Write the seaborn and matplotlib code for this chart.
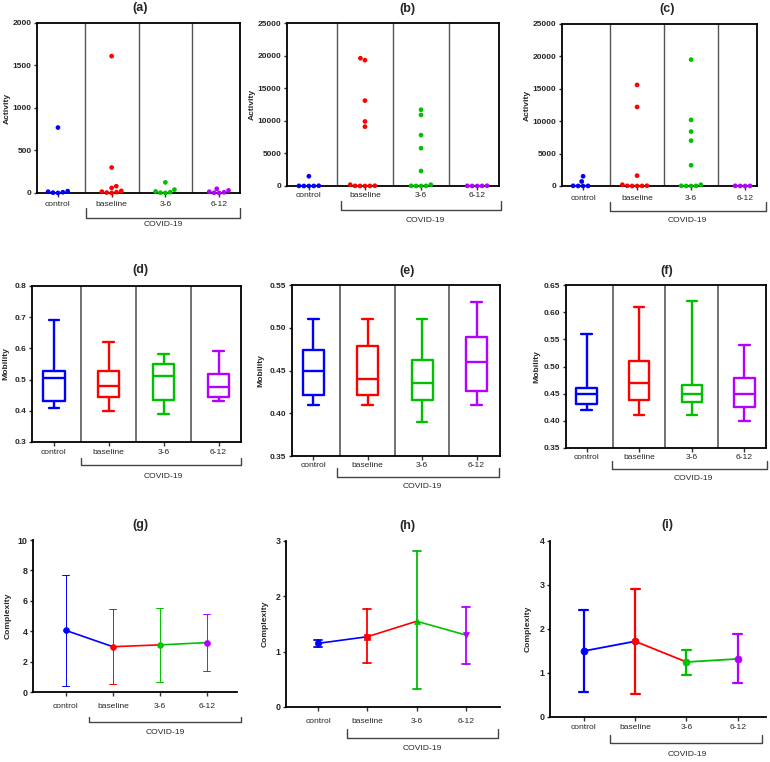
import numpy as np
import pandas as pd
import matplotlib
matplotlib.use("Agg")
import matplotlib.pyplot as plt
import seaborn as sns

# ---------------- data ----------------
categories = ["control", "baseline", "3-6", "6-12"]
palette = ["#0000FF", "#FF0000", "#00C000", "#B400FF"]
bracket_label = "COVID-19"

# Activity: individual values per group
act_a_control = [770, 22, 15, 9, 4, 1]
act_a_baseline = [1610, 300, 80, 60, 25, 16, 10, 5, 1]
act_a_3_6 = [125, 40, 18, 10, 4, 1]
act_a_6_12 = [50, 30, 15, 8, 3, 1]

act_b_control = [1500, 40, 20, 10, 2, 0]
act_b_baseline = [19600, 19300, 13100, 9900, 9100, 200, 40, 25, 12, 5, 0]
act_b_3_6 = [11700, 10900, 7800, 5800, 2300, 200, 30, 15, 5, 0]
act_b_6_12 = [40, 25, 15, 5, 0]

act_c_control = [1500, 700, 30, 15, 5, 0]
act_c_baseline = [15600, 12200, 1600, 200, 40, 25, 12, 5, 0]
act_c_3_6 = [19500, 10200, 8400, 7000, 3200, 200, 30, 15, 5, 0]
act_c_6_12 = [30, 15, 8, 0]

# Mobility: five-number summaries [min, q1, median, q3, max]
mob_d_control = [0.41, 0.433, 0.506, 0.529, 0.691]
mob_d_baseline = [0.40, 0.443, 0.480, 0.529, 0.621]
mob_d_3_6 = [0.39, 0.436, 0.511, 0.551, 0.581]
mob_d_6_12 = [0.43, 0.445, 0.476, 0.518, 0.592]

mob_e_control = [0.41, 0.421, 0.450, 0.474, 0.51]
mob_e_baseline = [0.41, 0.421, 0.440, 0.479, 0.51]
mob_e_3_6 = [0.39, 0.416, 0.435, 0.462, 0.51]
mob_e_6_12 = [0.41, 0.426, 0.460, 0.489, 0.53]

mob_f_control = [0.42, 0.431, 0.450, 0.461, 0.56]
mob_f_baseline = [0.41, 0.439, 0.470, 0.511, 0.61]
mob_f_3_6 = [0.41, 0.434, 0.450, 0.466, 0.62]
mob_f_6_12 = [0.40, 0.426, 0.450, 0.479, 0.54]

# Complexity: centre value with lower / upper error limits
cx_g_mean = [4.05, 2.98, 3.10, 3.25]
cx_g_low = [0.38, 0.53, 0.68, 1.38]
cx_g_high = [7.68, 5.45, 5.52, 5.13]

cx_h_mean = [1.15, 1.27, 1.55, 1.30]
cx_h_low = [1.09, 0.79, 0.32, 0.77]
cx_h_high = [1.21, 1.77, 2.82, 1.80]

cx_i_mean = [1.50, 1.72, 1.25, 1.32]
cx_i_low = [0.57, 0.53, 0.96, 0.77]
cx_i_high = [2.44, 2.91, 1.53, 1.89]

# tick values
yticks_a = [0, 500, 1000, 1500, 2000]
yticks_bc = [0, 5000, 10000, 15000, 20000, 25000]
yticks_d = [0.3, 0.4, 0.5, 0.6, 0.7, 0.8]
yticks_e = [0.35, 0.40, 0.45, 0.50, 0.55]
yticks_f = [0.35, 0.40, 0.45, 0.50, 0.55, 0.60, 0.65]
yticks_g = [0, 2, 4, 6, 8, 10]
yticks_h = [0, 1, 2, 3]
yticks_i = [0, 1, 2, 3, 4]

# ---------------- style ----------------
sns.set_style("ticks")
plt.rcParams["font.family"] = ["Liberation Sans", "DejaVu Sans"]
plt.rcParams["axes.linewidth"] = 1.3

W, H = 770, 762
fig = plt.figure(figsize=(W / 100, H / 100), dpi=100)
fig.patch.set_facecolor("white")

TICK_FS = 6.1
YTICK_FS = 6.0
LABEL_FS = 6.1
TITLE_FS = 9.0


def add_ax(box):
    l, t, r, b = box
    return fig.add_axes([l / W, 1 - b / H, (r - l) / W, (b - t) / H])


def decorate(ax, box, letter, title_px, ylabel, ylab_px, pad, bracket, covid_px,
             yticks, yfmt, ylim, xlim, full_frame, ytick_fs=YTICK_FS):
    l, t, r, b = box
    ax.set_xlim(*xlim)
    ax.set_ylim(*ylim)
    ax.set_yticks(yticks)
    ax.set_yticklabels([yfmt.format(v) for v in yticks], fontsize=ytick_fs,
                       fontweight="bold")
    ax.set_xticks(range(len(categories)))
    ax.set_xticklabels(categories, fontsize=TICK_FS)
    ax.tick_params(axis="x", length=3, width=1.0, pad=pad, color="#333333")
    ax.tick_params(axis="y", length=2.5, width=1.0, pad=1.5)
    ax.set_xlabel("")
    ax.set_ylabel(ylabel, fontsize=LABEL_FS, fontweight="bold", va="center")
    ax.yaxis.set_label_coords((ylab_px - l) / (r - l), 0.5)
    for s in ["left", "bottom", "top", "right"]:
        ax.spines[s].set_color("black")
    if full_frame:
        for s in ["top", "right"]:
            ax.spines[s].set_visible(True)
            ax.spines[s].set_linewidth(1.3)
    else:
        ax.spines["top"].set_visible(False)
        ax.spines["right"].set_visible(False)
    fig.text(title_px[0] / W, 1 - title_px[1] / H, letter, fontsize=TITLE_FS,
             fontweight="bold", ha="center", va="center")
    xl, xr, yt, yb = bracket
    fig.add_artist(plt.Line2D([xl / W, xl / W, xr / W, xr / W],
                              [1 - yt / H, 1 - yb / H, 1 - yb / H, 1 - yt / H],
                              color="#444444", lw=1.0))
    fig.text(covid_px[0] / W, 1 - covid_px[1] / H, bracket_label, fontsize=LABEL_FS,
             ha="center", va="center")


def long_df(groups):
    return pd.DataFrame({
        "group": np.repeat(categories, [len(g) for g in groups]),
        "value": np.concatenate([np.asarray(g, float) for g in groups]),
    })


def activity_panel(ax, groups):
    df = long_df(groups)
    sns.swarmplot(data=df, x="group", y="value", hue="group", order=categories,
                  hue_order=categories, palette=palette, size=3.4, linewidth=0,
                  legend=False, ax=ax, zorder=3)
    for c in ax.collections:
        c.set_clip_on(False)
    for xv in (0.5, 1.5, 2.5):
        ax.axvline(xv, color="#555555", lw=1.0, zorder=1)


def mobility_panel(ax, groups):
    df = long_df(groups)
    sns.boxplot(data=df, x="group", y="value", hue="group", order=categories,
                hue_order=categories, palette=palette, fill=False, width=0.39,
                whis=(0, 100), linewidth=1.7, legend=False, ax=ax)
    for xv in (0.5, 1.5, 2.5):
        ax.axvline(xv, color="#666666", lw=1.3, zorder=1)


def complexity_panel(ax, means, lows, highs, markers, msize, elw, capsize, lw):
    groups = [[lo, m, hi] for lo, m, hi in zip(lows, means, highs)]
    df = long_df(groups)
    sns.pointplot(data=df, x="group", y="value", hue="group", order=categories,
                  hue_order=categories, palette=palette, markers=markers,
                  estimator="median", errorbar=("pi", 100), capsize=capsize,
                  err_kws={"linewidth": elw}, markersize=msize,
                  markeredgewidth=0.5, linewidth=lw, legend=False, ax=ax)
    for i in range(len(categories) - 1):
        ax.plot([i, i + 1], [means[i], means[i + 1]], color=palette[i], lw=lw,
                zorder=1.5)


# ---------------- row 1: Activity ----------------
box = (37, 23, 240, 193)
ax = add_ax(box)
activity_panel(ax, [act_a_control, act_a_baseline, act_a_3_6, act_a_6_12])
decorate(ax, box, "(a)", (140, 8), "Activity", 7, 3.0, (86, 240, 208, 218),
         (163, 225), yticks_a, "{:d}", (0, 2000), (-0.39, 3.39), True)

box = (287, 23, 499, 186)
ax = add_ax(box)
activity_panel(ax, [act_b_control, act_b_baseline, act_b_3_6, act_b_6_12])
decorate(ax, box, "(b)", (407, 9), "Activity", 252, 1.6, (341, 501, 201, 210),
         (425, 221), yticks_bc, "{:d}", (0, 25000), (-0.39, 3.39), True)

box = (562, 24, 757, 186)
ax = add_ax(box)
activity_panel(ax, [act_c_control, act_c_baseline, act_c_3_6, act_c_6_12])
decorate(ax, box, "(c)", (667, 9), "Activity", 527, 3.7, (610, 766, 202, 211),
         (687, 221), yticks_bc, "{:d}", (0, 25000), (-0.39, 3.22), True)

# ---------------- row 2: Mobility ----------------
box = (32, 286, 241, 442)
ax = add_ax(box)
mobility_panel(ax, [mob_d_control, mob_d_baseline, mob_d_3_6, mob_d_6_12])
decorate(ax, box, "(d)", (140, 270), "Mobility", 6, 2.3, (81, 241, 458, 465),
         (163, 476), yticks_d, "{:.1f}", (0.3, 0.8), (-0.40, 3.41), True)

box = (292, 285, 500, 456)
ax = add_ax(box)
mobility_panel(ax, [mob_e_control, mob_e_baseline, mob_e_3_6, mob_e_6_12])
decorate(ax, box, "(e)", (407, 271), "Mobility", 261, 1.0, (337, 499, 468, 477),
         (422, 487), yticks_e, "{:.2f}", (0.35, 0.55), (-0.39, 3.43), True)

box = (566, 285, 766, 448)
ax = add_ax(box)
mobility_panel(ax, [mob_f_control, mob_f_baseline, mob_f_3_6, mob_f_6_12])
decorate(ax, box, "(f)", (667, 271), "Mobility", 537, 1.0, (612, 767, 461, 469),
         (693, 479), yticks_f, "{:.2f}", (0.35, 0.65), (-0.39, 3.41), True)

# ---------------- row 3: Complexity ----------------
box = (33, 540, 237, 692)
ax = add_ax(box)
complexity_panel(ax, cx_g_mean, cx_g_low, cx_g_high, ["o", "o", "o", "o"],
                 4.2, 0.7, 0.15, 1.2)
decorate(ax, box, "(g)", (140, 525), "Complexity", 8, 5.2, (89, 241, 717, 722),
         (165, 733), yticks_g, "{:d}", (0, 10), (-0.70, 3.64), False, 6.4)

box = (286, 541, 500, 707)
ax = add_ax(box)
complexity_panel(ax, cx_h_mean, cx_h_low, cx_h_high, ["o", "s", "^", "v"],
                 4.5, 1.3, 0.16, 1.2)
decorate(ax, box, "(h)", (407, 526), "Complexity", 265, 5.2, (347, 498, 729, 738),
         (422, 749), yticks_h, "{:d}", (0, 3), (-0.65, 3.69), False, 6.4)

box = (550, 541, 766, 717)
ax = add_ax(box)
complexity_panel(ax, cx_i_mean, cx_i_low, cx_i_high, ["o", "o", "o", "o"],
                 5.0, 1.6, 0.18, 1.3)
decorate(ax, box, "(i)", (667, 525), "Complexity", 528, 2.3, (610, 762, 735, 743),
         (687, 755), yticks_i, "{:d}", (0, 4), (-0.66, 3.55), False, 6.4)

fig.savefig("out.png", dpi=100, facecolor="white")
